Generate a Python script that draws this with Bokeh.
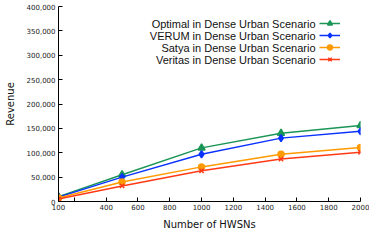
from bokeh.plotting import figure
from bokeh.models import (Range1d, FixedTicker, NumeralTickFormatter, Legend,
                          LegendItem, Label)
from bokeh.embed import file_html
from bokeh.resources import INLINE

# ---- data ----
hwsns = [100, 500, 1000, 1500, 2000]
optimal = [10000, 55000, 110000, 140000, 156000]
verum = [9000, 50000, 97000, 130000, 144000]
satya = [7000, 40000, 71000, 97000, 111000]
veritas = [5000, 32000, 63000, 87000, 101000]

series_names = ["Optimal in Dense Urban Scenario",
                "VERUM in Dense Urban Scenario",
                "Satya in Dense Urban Scenario",
                "Veritas in Dense Urban Scenario"]
colors = ["#1a9657", "#0a32ff", "#ff9a00", "#ff3a14"]
markers = ["triangle", "diamond", "circle", "x"]
marker_sizes = [7, 7, 6, 6]

x_ticks = [100, 200, 400, 600, 800, 1000, 1200, 1400, 1600, 1800, 2000]
y_ticks = [0, 50000, 100000, 150000, 200000, 250000, 300000, 350000, 400000]

p = figure(width=369, height=232, output_backend="svg", toolbar_location=None,
           x_range=Range1d(100, 2000), y_range=Range1d(0, 400000),
           min_border_left=58, min_border_right=9, min_border_top=6,
           min_border_bottom=30)
p.outline_line_color = None
p.xgrid.grid_line_color = None
p.ygrid.grid_line_color = None
p.background_fill_color = "white"
p.border_fill_color = "white"

for ax in (p.xaxis[0], p.yaxis[0]):
    ax.axis_line_color = "black"
    ax.major_tick_line_color = "black"
    ax.major_tick_in = 4
    ax.major_tick_out = 0
    ax.minor_tick_line_color = None
    ax.major_label_text_font = "DejaVu Sans"
    ax.major_label_text_font_size = "7px"
    ax.major_label_text_color = "#222222"
    ax.axis_label_text_font = "DejaVu Sans"
    ax.axis_label_text_font_size = "10px"
    ax.axis_label_text_font_style = "normal"
    ax.axis_label_text_color = "#111111"

p.xaxis.ticker = FixedTicker(ticks=x_ticks)
p.xaxis.major_label_overrides = {200: ""}
p.xaxis.major_label_standoff = 2
p.xaxis.axis_label = "Number of HWSNs"
p.xaxis.axis_label_standoff = 6

p.yaxis.ticker = FixedTicker(ticks=y_ticks)
p.yaxis.formatter = NumeralTickFormatter(format="0,0")
p.yaxis.major_label_standoff = 3
p.yaxis.axis_label = "Revenue"
p.yaxis.axis_label_standoff = 8

all_series = [optimal, verum, satya, veritas]
items = []
for name, vals, c, m, s in zip(series_names, all_series, colors, markers,
                               marker_sizes):
    ln = p.line(hwsns, vals, line_color=c, line_width=1.5)
    sc = p.scatter(hwsns, vals, marker=m, size=s, color=c, line_width=1.5)
    items.append(LegendItem(label=" ", renderers=[ln, sc]))

legend = Legend(items=items, location=(261, 136), glyph_width=21,
                glyph_height=12, label_height=12, label_width=0, spacing=0,
                padding=0, margin=0, label_standoff=0,
                label_text_font_size="2px", border_line_color=None,
                background_fill_alpha=0)
p.add_layout(legend)

row_y = [178, 166, 154, 142]
for name, yy in zip(series_names, row_y):
    p.add_layout(Label(x=257, y=yy, x_units="screen", y_units="screen",
                       text=name, text_align="right", text_baseline="middle",
                       text_font="Liberation Sans", text_font_size="11px",
                       text_color="#111111"))

open("out.html", "w").write(file_html(p, INLINE))
